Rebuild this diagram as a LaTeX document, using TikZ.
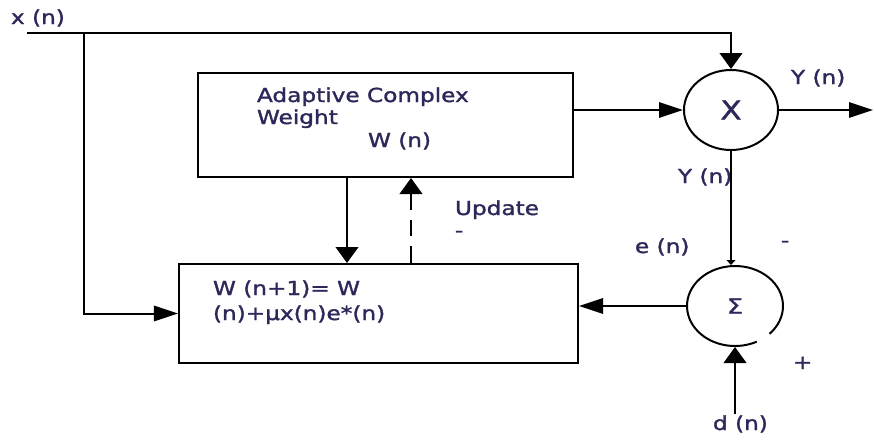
\documentclass[tikz,border=0pt]{standalone}
\usepackage{fontspec}
\newfontfamily\lblfont{DejaVu Sans}[FakeStretch=1.2,FakeBold=1.6]
\usetikzlibrary{arrows.meta,shapes.geometric}
\definecolor{ink}{RGB}{44,40,90}
\begin{document}
\begin{tikzpicture}[x=.03cm,y=-.03cm,line width=1.7pt,
		lbl/.style={font=\lblfont\fontsize{16.5pt}{19pt}\selectfont,text=ink,inner sep=0pt,anchor=base west},
		block/.style={draw,rectangle,inner sep=0pt},
		junction/.style={ellipse,inner sep=0pt,text=ink,font=\lblfont\fontsize{22pt}{24pt}\selectfont},
		harr/.style={-{Triangle[length=.72cm,width=.46cm]}},
		varr/.style={-{Triangle[length=.48cm,width=.68cm]}},
		dashline/.style={dash pattern=on .5cm off .3cm}]
		\useasboundingbox (0,0) rectangle (874,439);
		\node[block,minimum width=11.25cm,minimum height=3.12cm] (wbox) at (385.5,125) {};
		\node[block,minimum width=11.97cm,minimum height=2.97cm] (upd) at (378.5,313.5) {};
		\node[junction,draw,minimum width=2.82cm,minimum height=2.4cm] (mult) at (731,110) {X};
		\node[junction,minimum width=2.88cm,minimum height=2.4cm,font=\lblfont\fontsize{18pt}{20pt}\selectfont] (sum) at (735,306) {Σ};
		\draw ([shift={(-44:1.44cm and 1.2cm)}]sum.center) arc[start angle=-44, end angle=297, x radius=1.44cm, y radius=1.2cm];
		\node[lbl] (xlbl) at (10,24) {x (n)};
		\node[lbl] (wtxt1) at (256,102) {Adaptive Complex};
		\node[lbl] (wtxt2) at (256,124) {Weight};
		\node[lbl] (wtxt3) at (367,147) {W (n)};
		\node[lbl] (utxt1) at (212,295) {W (n+1)= W};
		\node[lbl] (utxt2) at (212,320) {(n)+µx(n)e*(n)};
		\node[lbl] (ylbl) at (790,84) {Y (n)};
		\node[lbl] (ylbl2) at (677,183) {Y (n)};
		\node[lbl] (updlbl) at (454,215) {Update};
		\node[lbl] (updmin) at (454,237) {-};
		\node[lbl] (elbl) at (634,253) {e (n)};
		\node[lbl] (minus) at (780,247) {-};
		\node[lbl] (plus) at (792,369) {+};
		\node[lbl] (dlbl) at (712,430) {d (n)};
		\coordinate (xin) at (27,33);
		\coordinate (split) at (84,33);
		\coordinate (yout) at (873,110);
		\draw (xin) -- (split);
		\draw[varr] (split) -| (mult.north);
		\draw[harr] (split) |- (upd.west);
		\draw[harr] (wbox.east |- mult.west) -- (mult.west);
		\draw[harr] (mult.east) -- (yout);
		\draw[-{Triangle[length=.15cm,width=.26cm]}] (mult.south) -- (mult.south |- sum.north);
		\draw[harr] (sum.west) -- (sum.west -| upd.east);
		\draw[varr] (dlbl.north -| sum.south) -- (sum.south);
		\draw[varr] ([xshift=-1.155cm]wbox.south) -- ([xshift=-1.155cm]wbox.south |- upd.north);
		\draw[varr,dashline] ([xshift=.765cm]wbox.south |- upd.north) -- ([xshift=.765cm]wbox.south);
	\end{tikzpicture}
\end{document}
